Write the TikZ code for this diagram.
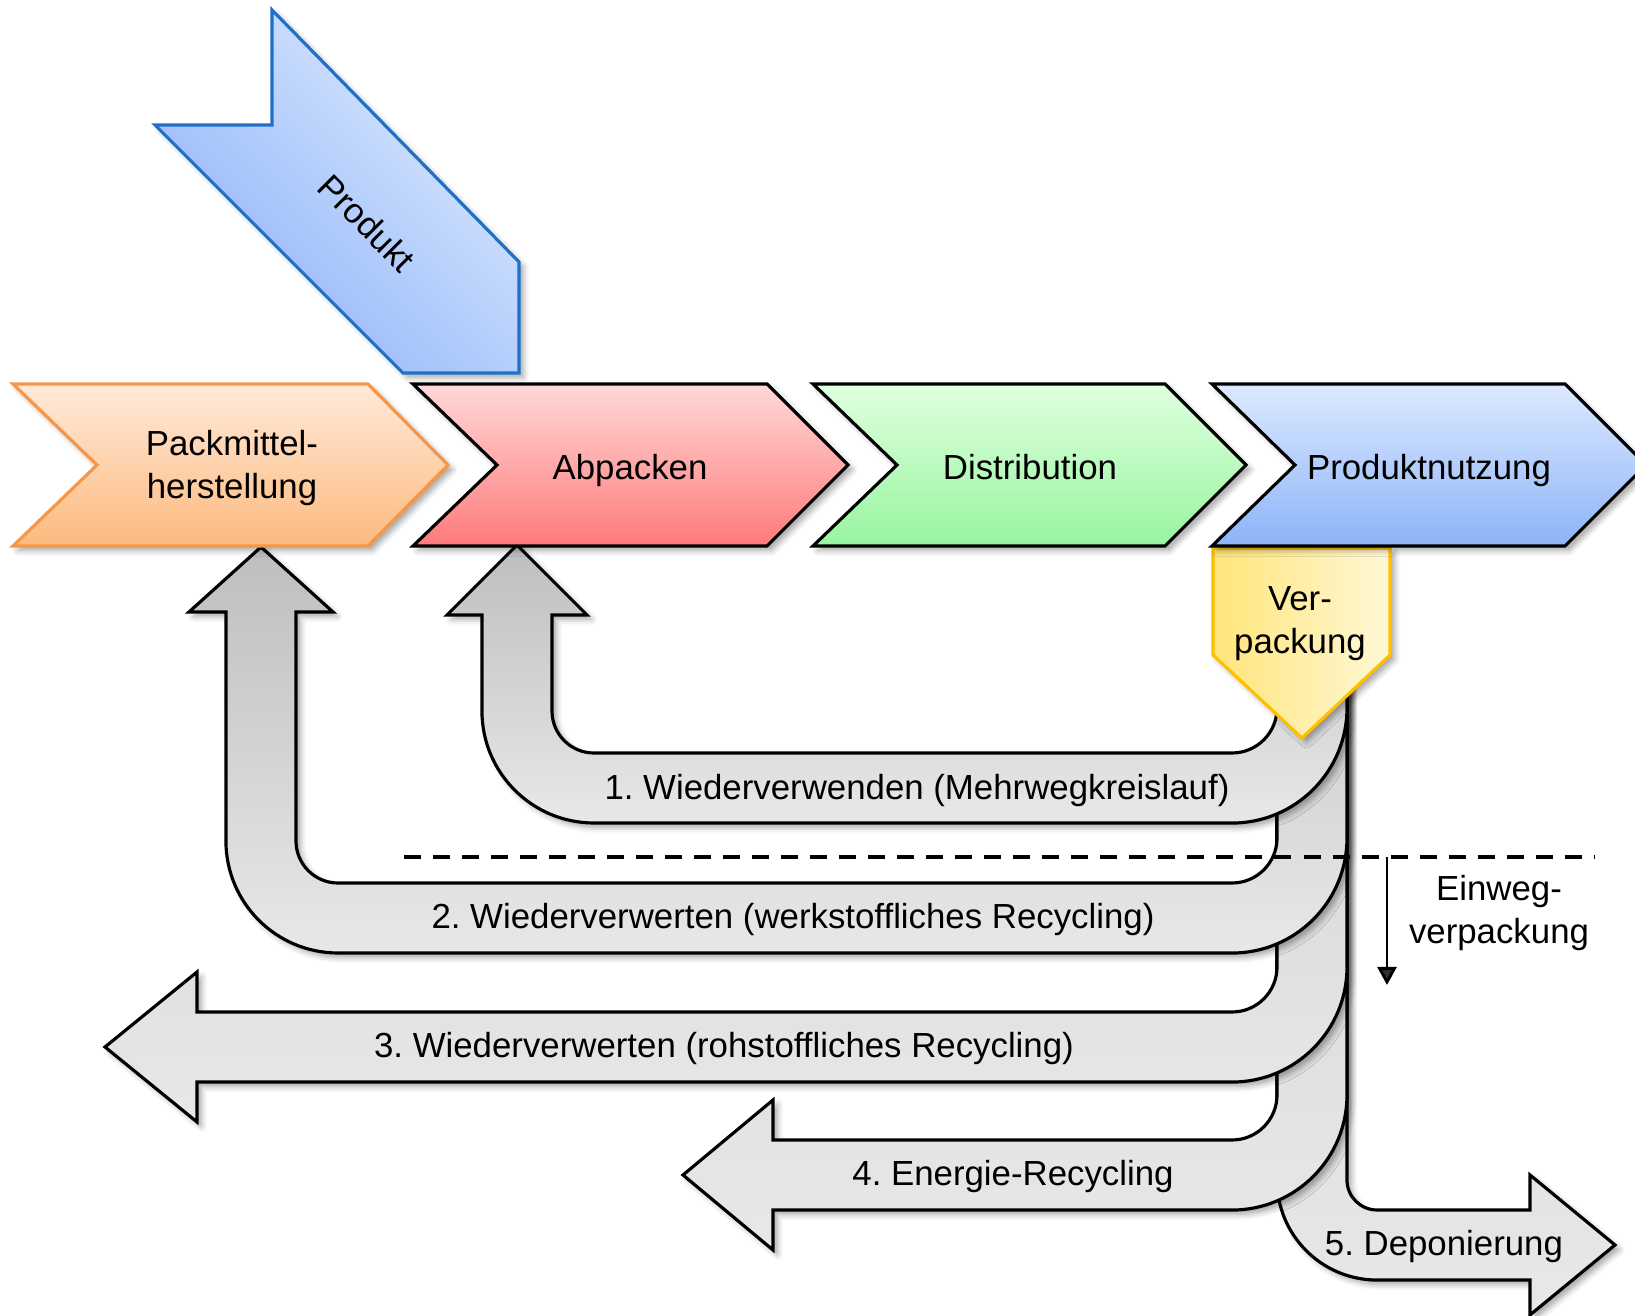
\documentclass[tikz,border=0pt]{standalone}
\usepackage{fontspec}
\setmainfont{Liberation Sans}
\usetikzlibrary{arrows.meta,shadows.blur}
\frenchspacing

\definecolor{orTop}{HTML}{FFEADA}
\definecolor{orBot}{HTML}{FDBA7E}
\definecolor{orLine}{HTML}{F79646}
\definecolor{rdTop}{HTML}{FFD8D8}
\definecolor{rdBot}{HTML}{FF7A7A}
\definecolor{grTop}{HTML}{E0FFE0}
\definecolor{grBot}{HTML}{97F59E}
\definecolor{blTop}{HTML}{DDE9FF}
\definecolor{blBot}{HTML}{8CB4F8}
\definecolor{blLine}{HTML}{1F70C8}
\definecolor{yeL}{HTML}{FFE57A}
\definecolor{yeR}{HTML}{FFF8D6}
\definecolor{yeLine}{HTML}{FFC000}
\definecolor{gyDark}{HTML}{BEBEBE}
\definecolor{gyMid}{HTML}{D2D2D2}
\definecolor{gyLight}{HTML}{E8E8E8}

\begin{document}
\begin{tikzpicture}[x=0.01cm,y=-0.01cm,
  every node/.style={font=\fontsize{9.9}{12.2}\selectfont, align=center, inner sep=0pt},
  softshadow/.style={blur shadow={shadow xshift=1.3pt, shadow yshift=-1.3pt,
      shadow blur radius=1.6pt, shadow opacity=35}},
  chevron/.style={softshadow, line width=0.9pt, draw=black},
  flow/.style={softshadow, line width=0.9pt, draw=black},
  flowup/.style={flow, top color=gyDark, bottom color=gyLight},
  flowside/.style={flow, top color=gyMid, bottom color=gyLight},
]
\useasboundingbox (0,0) rectangle (1635,1316);

% ---- disposal paths, lowest layer first ----
% 5. landfill
\path[flowside] (1277,680) -- (1277,1180) arc[start angle=180,end angle=270,radius=1cm]
  -- (1530,1280) -- (1530,1315) -- (1615,1245) -- (1530,1175) -- (1530,1210)
  -- (1377,1210) arc[start angle=270,end angle=180,radius=0.3cm]
  -- (1347,680) -- cycle;
% 4. energy recovery
\path[flowside] (1347,680) -- (1347,1095) arc[start angle=0,end angle=-90,radius=1.15cm]
  -- (773,1210) -- (773,1250) -- (683,1175) -- (773,1100) -- (773,1140)
  -- (1232,1140) arc[start angle=270,end angle=360,radius=0.45cm]
  -- (1277,680) -- cycle;
% 3. feedstock recycling
\path[flowside] (1347,680) -- (1347,967) arc[start angle=0,end angle=-90,radius=1.15cm]
  -- (197,1082) -- (197,1122) -- (105,1047) -- (197,972) -- (197,1012)
  -- (1232,1012) arc[start angle=270,end angle=360,radius=0.45cm]
  -- (1277,680) -- cycle;
% 2. material recycling
\path[flowup] (1347,680) -- (1347,838) arc[start angle=0,end angle=-90,radius=1.15cm]
  -- (338,953) arc[start angle=-90,end angle=-180,radius=1.12cm]
  -- (226,612) -- (189,612) -- (261,547) -- (333,612) -- (296,612)
  -- (296,841) arc[start angle=180,end angle=270,radius=0.42cm]
  -- (1232,883) arc[start angle=270,end angle=360,radius=0.45cm]
  -- (1277,680) -- cycle;
% 1. reuse
\path[flowup] (1347,680) -- (1347,708) arc[start angle=0,end angle=-90,radius=1.15cm]
  -- (594,823) arc[start angle=-90,end angle=-180,radius=1.12cm]
  -- (482,615) -- (447,615) -- (517,545) -- (587,615) -- (552,615)
  -- (552,711) arc[start angle=180,end angle=270,radius=0.42cm]
  -- (1232,753) arc[start angle=270,end angle=360,radius=0.45cm]
  -- (1277,680) -- cycle;

\node (l1) at (917,791) {1. Wiederverwenden (Mehrwegkreislauf)};
\node (l2) at (793,920) {2. Wiederverwerten (werkstoffliches Recycling)};
\node (l3) at (724,1049) {3. Wiederverwerten (rohstoffliches Recycling)};
\node (l4) at (1013,1177) {4. Energie-Recycling};
\node (l5) at (1444,1247) {5. Deponierung};

% ---- reusable / one-way boundary ----
\coordinate (dl) at (404,857);
\coordinate (dr) at (1595,857);
\draw[line width=1.1pt, dash pattern=on 0.17cm off 0.12cm] (dl) -- (dr);
\coordinate (ewtop) at (1387,857);
\coordinate (ewbot) at (1387,985);
\draw[line width=0.8pt, -{Triangle[length=0.18cm,width=0.19cm]}] (ewtop) -- (ewbot);
\node (einweg) at (1499,913) {Einweg-\\verpackung};

% ---- packaging tag ----
\path[softshadow, left color=yeL, right color=yeR, draw=yeLine, line width=0.9pt]
  (1213,548) -- (1390,548) -- (1390,655) -- (1302,738) -- (1213,655) -- cycle;
\node (verp) at (1300,624) {Ver-\\packung};

% ---- process chain ----
\path[chevron, draw=orLine, top color=orTop, bottom color=orBot]
  (13,384) -- (368,384) -- (448,465) -- (368,546) -- (13,546) -- (97,465) -- cycle;
\node (pm) at (232,468) {Packmittel-\\herstellung};
\path[chevron, top color=rdTop, bottom color=rdBot]
  (413,384) -- (767,384) -- (848,465) -- (767,546) -- (413,546) -- (497,465) -- cycle;
\node (ab) at (630,471) {Abpacken};
\path[chevron, top color=grTop, bottom color=grBot]
  (813,384) -- (1165,384) -- (1246,465) -- (1165,546) -- (813,546) -- (897,465) -- cycle;
\node (di) at (1030,467) {Distribution};
\path[chevron, top color=blTop, bottom color=blBot]
  (1212,384) -- (1565,384) -- (1646,465) -- (1565,546) -- (1212,546) -- (1295,465) -- cycle;
\node (pn) at (1429,471) {Produktnutzung};

% ---- product input ----
\path[softshadow, draw=blLine, line width=0.9pt, top color=blTop, bottom color=blBot, shading angle=-45]
  (272,10) -- (519,262) -- (519,373) -- (403,373) -- (155,125) -- (272,125) -- cycle;
\node[rotate=-45] (pr) at (367,223) {Produkt};
\end{tikzpicture}
\end{document}
